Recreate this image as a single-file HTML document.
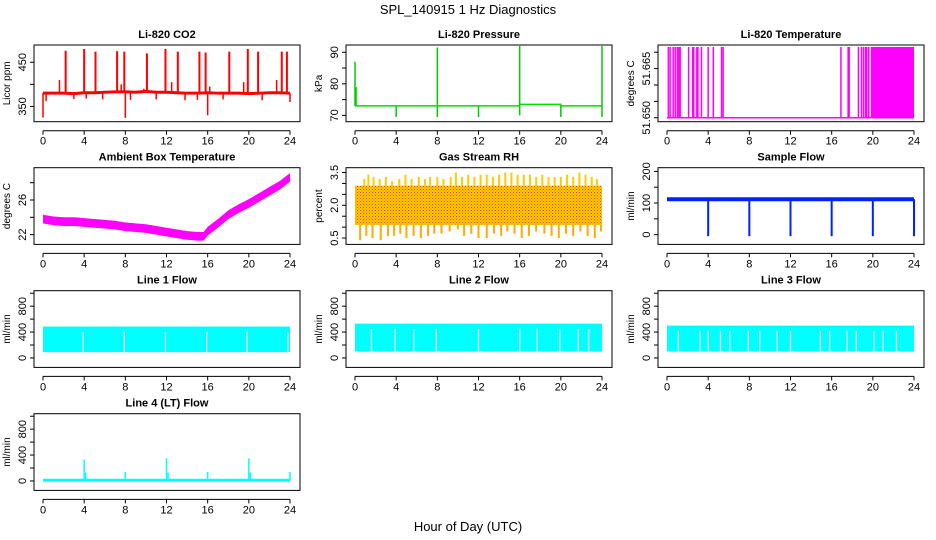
<!DOCTYPE html>
<html><head><meta charset="utf-8"><style>
html,body{margin:0;padding:0;background:#fff;}
svg{display:block;font-family:"Liberation Sans",sans-serif;}
</style></head><body>
<svg id="chart" width="936" height="540" viewBox="0 0 936 540">
<rect width="936" height="540" fill="#fff"/>
<defs>
<pattern id="rhpat" width="3" height="3" patternUnits="userSpaceOnUse">
<rect width="3" height="3" fill="#ffd000"/><rect width="1" height="1" fill="#ff3300"/><rect x="1.5" y="1.5" width="1" height="1" fill="#ff5500"/>
</pattern>
</defs>
<text x="468" y="14" text-anchor="middle" font-size="13">SPL_140915  1 Hz Diagnostics</text>
<text x="468" y="531" text-anchor="middle" font-size="13">Hour of Day (UTC)</text>
</svg>
<script>
// ---- data ----
const hourTicks = [0,4,8,12,16,20,24];
const co2Hours = [0,1,2,3,4,5,6,7,8,9,10,11,12,13,14,15,16,17,18,19,20,21,22,23,24];
const co2Base = [380,380,380,379,381,381,382,383,383,382,384,382,382,381,380,380,381,380,380,380,379,380,381,381,380];
const co2SpikeTimes = [2.2,4.0,5.1,7.2,7.9,10.1,11.9,13.1,15.2,15.8,18.1,19.9,20.9,23.2,23.7];
const co2SpikeVals = [476,480,474,475,474,470,480,474,474,472,474,480,474,474,474];
const co2MinorTimes = [0.0,0.3,1.6,3.0,4.2,5.8,7.6,8.0,8.5,9.8,11.0,12.5,13.8,15.0,16.0,16.2,17.5,19.5,21.3,22.7,24.0];
const co2MinorVals = [325,362,410,367,368,366,400,324,365,390,366,405,364,365,330,395,366,405,364,410,360];
const presSegHours = [0,16,16,20,20,24];
const presSegVals = [73,73,73.5,73.5,73,73];
const presUpTimes = [0,0.1,8,16,24];
const presUpVals = [87,79,91.5,92,92];
const presDownTimes = [4,8,12,16,20,24];
const presDownVals = [69.5,69.5,69.5,70,69.5,69.5];
const tempLineTimes = [0.13,0.3,0.6,0.8,1.0,1.15,1.28,2.1,2.5,2.6,2.9,3.0,3.35,4.0,4.5,5.3,5.45,16.9,17.6,17.7,18.6,18.9,19.1,19.3,19.4,19.6];
const tempBlock = [19.8,24.0];
const tempLow = 51.6500, tempHigh = 51.6716;
const ambHours = [0,1,2,3,4,5,6,7,8,9,10,11,12,13,14,15,15.6,16,17,18,19,20,21,22,23,24];
const ambCenter = [23.8,23.6,23.5,23.5,23.4,23.3,23.2,23.1,22.9,22.8,22.7,22.5,22.3,22.1,21.9,21.8,21.8,22.4,23.3,24.3,25.0,25.6,26.3,27.0,27.7,28.6];
const rhBandLow = 1.1, rhBandHigh = 2.9;
const rhUpTimes = [0.9,1.3,1.8,2.4,3.0,3.6,4.3,4.9,5.5,6.2,6.8,7.3,8.0,8.6,9.3,9.8,10.4,11.0,11.6,12.2,12.8,13.4,14.0,14.6,15.2,15.8,16.4,17.0,17.6,18.2,18.8,19.4,20.0,20.6,21.2,21.8,22.4,23.0,23.5];
const rhUpVals = [3.2,3.4,3.3,3.2,3.3,3.1,3.2,3.4,3.2,3.3,3.2,3.3,3.3,3.2,3.3,3.5,3.3,3.4,3.3,3.4,3.4,3.3,3.4,3.5,3.5,3.4,3.4,3.4,3.3,3.4,3.3,3.3,3.3,3.4,3.3,3.5,3.4,3.3,3.2];
const rhDownTimes = [0.5,1.1,1.7,2.5,3.2,3.8,4.4,5.0,5.7,6.4,7.1,7.7,8.4,9.2,10.0,10.6,11.3,12.0,12.8,13.5,14.2,14.8,15.5,16.2,16.9,17.6,18.4,19.1,19.8,20.5,21.2,21.9,22.6,23.3,23.9];
const rhDownVals = [0.4,0.6,0.5,0.4,0.6,0.6,0.7,0.5,0.6,0.5,0.6,0.7,0.7,0.8,0.9,0.6,0.7,0.5,0.5,0.7,0.6,0.8,0.7,0.5,0.6,0.8,0.7,0.6,0.5,0.7,0.6,0.8,0.6,0.5,0.8];
const flowBase = 112;
const flowDipTimes = [4,8,12,16,20,24];
const flowDipVals = [-5,-5,-5,-5,-5,-5];
const line1Top = 485, line1Bottom = 90;
const line1Gaps = [3.9,7.9,11.9,15.9,19.8,23.8];
const line2Top = 530, line2Bottom = 100;
const line2Gaps = [1.6,3.9,5.7,7.9,12.0,16.0,17.7,19.9,21.7,22.7];
const line3Top = 500, line3Bottom = 100;
const line3Gaps = [1.1,3.2,4.0,5.2,6.1,7.9,9.0,10.7,12.0,14.9,15.8,17.5,18.4,20.1,21.0,22.3];
const line4Base = 10;
const line4SpikeTimes = [4,4.15,8,12,12.15,16,20,20.15,24];
const line4SpikeVals = [330,130,140,350,130,140,350,130,140];

// ---- layout ----
const svg = document.getElementById('chart');
const NS = 'http://www.w3.org/2000/svg';
const colLeft = [34,346,658];
const rowTop = [45,167.7,290.7,413.7];
const BW = 266, BH = 76.7;
function mk(tag, attrs, parent){
  const e = document.createElementNS(NS, tag);
  for (const k in attrs) e.setAttribute(k, attrs[k]);
  (parent||svg).appendChild(e);
  return e;
}
function panel(col,row,name,title,ylab,ymin,ymax,ticks,labels){
  const L = colLeft[col], T = rowTop[row];
  const g = mk('g',{});
  
  
  const sx = t => L + 9 + t*247/24;
  const sy = v => T + BH - (v-ymin)/(ymax-ymin)*BH;
  const dg = mk('g',{},g);
  
  
  const box = mk('rect',{x:L,y:T,width:BW,height:BH,fill:'none',stroke:'#000','stroke-width':1},g);
  
  
  const tt = mk('text',{x:L+BW/2,y:T-7,'text-anchor':'middle','font-size':11,'font-weight':'bold'},g);
  tt.textContent = title;
  
  
  const ax = mk('g',{},g);
  
  
  const ay0 = T+BH+9;
  mk('line',{x1:sx(0),x2:sx(24),y1:ay0,y2:ay0,stroke:'#000'},ax);
  hourTicks.forEach(h=>{
    mk('line',{x1:sx(h),x2:sx(h),y1:ay0,y2:ay0+4,stroke:'#000'},ax);
    const t = mk('text',{x:sx(h),y:ay0+14,'text-anchor':'middle','font-size':11},ax);
    t.textContent = h;
  });
  const yg = mk('g',{},g);
  
  
  ticks.forEach((v,i)=>{
    mk('line',{x1:L-4,x2:L,y1:sy(v),y2:sy(v),stroke:'#000'},yg);
    if (labels[i]!==''){
      const t = mk('text',{x:0,y:0,'text-anchor':'middle','font-size':11,transform:`translate(${L-8},${sy(v)}) rotate(-90)`},yg);
      t.textContent = labels[i];
    }
  });
  const yt = mk('text',{x:0,y:0,'text-anchor':'middle','font-size':10,transform:`translate(${L-24},${T+BH/2}) rotate(-90)`},g);
  yt.textContent = ylab;
  
  
  return {sx,sy,g:dg};
}
function vline(p,t,v0,v1,color,w){
  return mk('line',{x1:p.sx(t),x2:p.sx(t),y1:p.sy(v0),y2:p.sy(v1),stroke:color,'stroke-width':w||1.5},p.g);
}
function poly(p,xs,ys,color,w){
  return mk('polyline',{points:xs.map((x,i)=>p.sx(x)+','+p.sy(ys[i])).join(' '),fill:'none',stroke:color,'stroke-width':w},p.g);
}

let p = panel(0,0,'co2','Li-820 CO2','Licor ppm',315.5,489,[350,400,450],['350','','450']);
poly(p,co2Hours,co2Base,'#ff0000',3);
co2SpikeTimes.forEach((t,i)=>vline(p,t,co2Base[Math.round(t)],co2SpikeVals[i],'#ff0000',2));
co2MinorTimes.forEach((t,i)=>vline(p,t,co2Base[Math.round(t)],co2MinorVals[i],'#ff0000',1.5));

p = panel(1,0,'pressure','Li-820 Pressure','kPa',68,92.3,[70,75,80,85,90],['70','','80','','90']);
poly(p,presSegHours,presSegVals,'#00dd00',1.5);
presUpTimes.forEach((t,i)=>vline(p,t,73,presUpVals[i],'#00cc00',1.5));
presDownTimes.forEach((t,i)=>vline(p,t,73,presDownVals[i],'#00cc00',1.5));

p = panel(2,0,'li820-temp','Li-820 Temperature','degrees C',51.6488,51.6722,[51.650,51.655,51.660,51.665,51.670],['51.650','','','51.665','']);
poly(p,[0,24],[tempLow,tempLow],'#ff00ff',1.5);
tempLineTimes.forEach(t=>vline(p,t,tempLow,tempHigh,'#ff00ff',1.5));
mk('rect',{x:p.sx(tempBlock[0]),y:p.sy(tempHigh),width:p.sx(tempBlock[1])-p.sx(tempBlock[0]),height:p.sy(tempLow)-p.sy(tempHigh),fill:'#ff00ff'},p.g);

p = panel(0,1,'ambient-temp','Ambient Box Temperature','degrees C',20.87,29.73,[22,24,26,28],['22','','26','']);
{
  const up = ambHours.map((h,i)=>p.sx(h)+','+p.sy(ambCenter[i]+0.5));
  const dn = ambHours.map((h,i)=>p.sx(h)+','+p.sy(ambCenter[i]-0.5)).reverse();
  mk('polygon',{points:up.concat(dn).join(' '),fill:'#ff00ff'},p.g);
}

p = panel(1,1,'gas-rh','Gas Stream RH','percent',0.21,3.72,[0.5,1,1.5,2,2.5,3,3.5],['0.5','','','2.0','','','3.5']);
mk('rect',{x:p.sx(0),y:p.sy(rhBandHigh),width:p.sx(24)-p.sx(0),height:p.sy(rhBandLow)-p.sy(rhBandHigh),fill:'url(#rhpat)'},p.g);
rhUpTimes.forEach((t,i)=>vline(p,t,rhBandHigh,rhUpVals[i],'#ffcc00',2));
rhDownTimes.forEach((t,i)=>vline(p,t,rhBandLow,rhDownVals[i],'#ffaa00',2));

p = panel(2,1,'sample-flow','Sample Flow','ml/min',-31,211.8,[0,50,100,150,200],['0','','100','','200']);
poly(p,[0,24],[flowBase,flowBase],'#0022ff',4);
flowDipTimes.forEach((t,i)=>vline(p,t,flowBase,flowDipVals[i],'#0022ff',2));

const flowTicks = [0,200,400,600,800,1000], flowLabels = ['0','','400','','800',''];
function bandFlow(p,top,bot,gaps){
  mk('rect',{x:p.sx(0),y:p.sy(top),width:p.sx(24)-p.sx(0),height:p.sy(bot)-p.sy(top),fill:'#00ffff'},p.g);
  gaps.forEach(t=>mk('line',{x1:p.sx(t),x2:p.sx(t),y1:p.sy(top-80),y2:p.sy(bot),stroke:'#fff','stroke-width':1.2},p.g));
}
p = panel(0,2,'line1-flow','Line 1 Flow','ml/min',-146,1039,flowTicks,flowLabels);
bandFlow(p,line1Top,line1Bottom,line1Gaps);
p = panel(1,2,'line2-flow','Line 2 Flow','ml/min',-146,1039,flowTicks,flowLabels);
bandFlow(p,line2Top,line2Bottom,line2Gaps);
p = panel(2,2,'line3-flow','Line 3 Flow','ml/min',-146,1039,flowTicks,flowLabels);
bandFlow(p,line3Top,line3Bottom,line3Gaps);
p = panel(0,3,'line4-flow','Line 4 (LT) Flow','ml/min',-146,1039,flowTicks,flowLabels);
poly(p,[0,24],[line4Base,line4Base],'#00ffff',3);
line4SpikeTimes.forEach((t,i)=>vline(p,t,line4Base,line4SpikeVals[i],'#00ffff',1.5));
</script>
</body></html>
